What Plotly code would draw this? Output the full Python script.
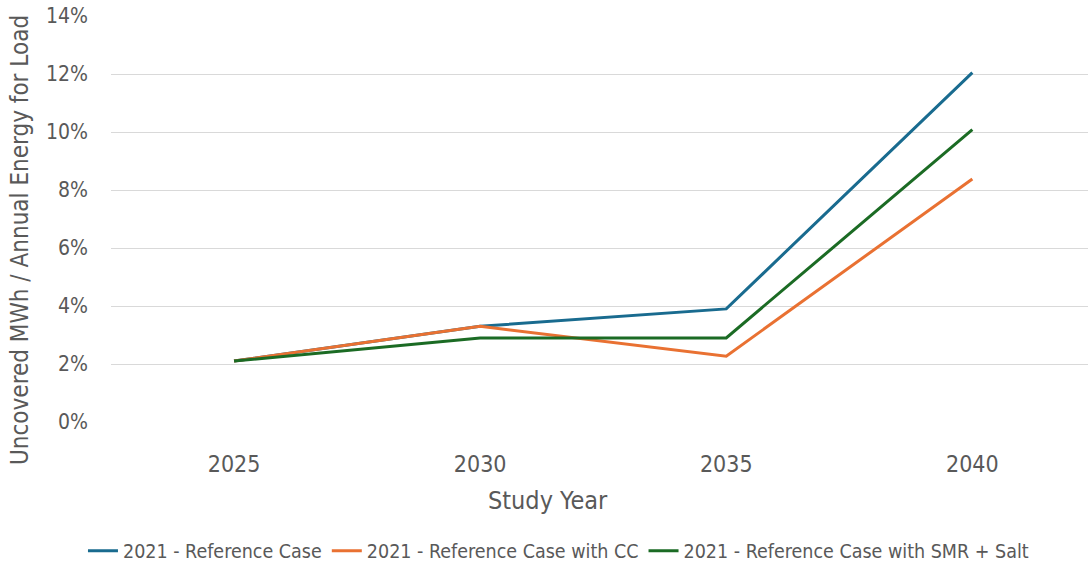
import plotly.graph_objects as go

# Study years and uncovered-energy shares (fraction of annual energy for load)
years = ["2025", "2030", "2035", "2040"]
reference_case = [0.021, 0.033, 0.039, 0.1205]
reference_cc = [0.021, 0.033, 0.0227, 0.0838]
reference_smr_salt = [0.021, 0.029, 0.029, 0.1008]

series_names = [
    "2021 - Reference Case",
    "2021 - Reference Case with CC",
    "2021 - Reference Case with SMR + Salt",
]
series_colors = ["#196B8F", "#E97132", "#1B6B24"]

FONT = "DejaVu Sans Condensed, Liberation Sans, sans-serif"
TEXT = "#595959"

fig = go.Figure()
for name, vals, color in zip(series_names,
                             [reference_case, reference_cc, reference_smr_salt],
                             series_colors):
    fig.add_trace(go.Scatter(
        x=years, y=vals, name=name, mode="lines",
        line=dict(color=color, width=3),
    ))

fig.update_layout(
    width=1088, height=571,
    margin=dict(l=111, r=0, t=16, b=149),
    paper_bgcolor="white", plot_bgcolor="white",
    font=dict(family=FONT, color=TEXT),
    showlegend=True,
    legend=dict(
        orientation="h", x=0.458, xanchor="center", y=-0.318, yanchor="middle",
        font=dict(size=19.5, color=TEXT), itemwidth=30, tracegroupgap=0,
    ),
    xaxis=dict(
        type="category", range=[-0.5, 3.47],
        showgrid=False, showline=False, zeroline=False,
        ticks="", tickfont=dict(size=23, color=TEXT), ticklabelstandoff=26,
    ),
    yaxis=dict(
        range=[0, 0.14], dtick=0.02, tickformat=".0%",
        showgrid=True, gridcolor="#D9D9D9", gridwidth=1,
        zeroline=False, showline=False, ticks="",
        tickfont=dict(size=21, color=TEXT), ticklabelstandoff=22,
    ),
    annotations=[
        dict(text="Study Year", xref="paper", yref="paper",
             x=(548 - 111) / 977, y=(422 - 500) / 406,
             xanchor="center", yanchor="middle", showarrow=False,
             font=dict(size=25, color=TEXT, family=FONT)),
        dict(text="Uncovered MWh / Annual Energy for Load", xref="paper", yref="paper",
             x=(20 - 111) / 977, y=(422 - 240) / 406, textangle=-90,
             xanchor="center", yanchor="middle", showarrow=False,
             font=dict(size=24, color=TEXT, family=FONT)),
    ],
)

fig.write_html("out.html")
